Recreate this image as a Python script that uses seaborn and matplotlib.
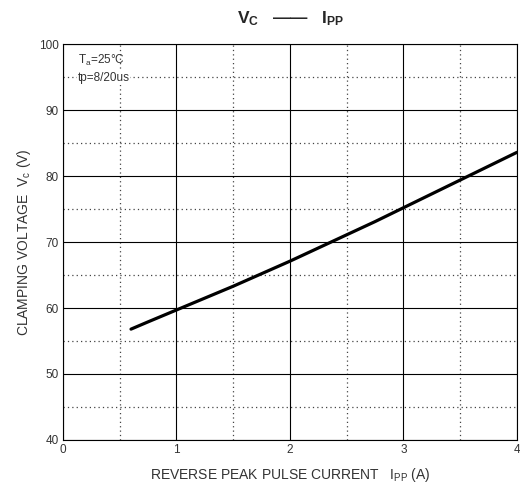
import matplotlib
matplotlib.use('Agg')
import matplotlib.pyplot as plt
import seaborn as sns
import pandas as pd
from matplotlib.ticker import MultipleLocator

# values
ipp = [0.6, 0.75, 1.0, 1.25, 1.5, 1.75, 2.0, 2.25, 2.5, 2.75, 3.0, 3.25, 3.5, 3.75, 4.0]
vc = [56.8, 57.9, 59.7, 61.5, 63.3, 65.2, 67.1, 69.1, 71.1, 73.1, 75.2, 77.3, 79.4, 81.5, 83.6]

df = pd.DataFrame({'Ipp': ipp, 'Vc': vc})

sns.set_style('white')
plt.rcParams['font.family'] = ['Liberation Sans', 'DejaVu Sans']
plt.rcParams['mathtext.fontset'] = 'custom'
plt.rcParams['mathtext.rm'] = 'Liberation Sans'
plt.rcParams['mathtext.it'] = 'Liberation Sans'
plt.rcParams['mathtext.bf'] = 'Liberation Sans:bold'

fig = plt.figure(figsize=(5.2, 4.91), dpi=100)
ax = fig.add_axes([0.121, 0.104, 0.873, 0.806])

sns.lineplot(data=df, x='Ipp', y='Vc', color='black', linewidth=2.3, ax=ax)

ax.set_xlim(0, 4)
ax.set_ylim(40, 100)
ax.xaxis.set_major_locator(MultipleLocator(1))
ax.xaxis.set_minor_locator(MultipleLocator(0.5))
ax.yaxis.set_major_locator(MultipleLocator(10))
ax.yaxis.set_minor_locator(MultipleLocator(5))
ax.grid(which='major', color='black', linewidth=0.8, linestyle='-')
ax.grid(which='minor', color='#444444', linewidth=0.9, linestyle=(0, (1, 2.5)))
ax.tick_params(which='both', length=0, labelsize=8.5, colors='#333333', pad=3)
for s in ax.spines.values():
    s.set_color('black')
    s.set_linewidth(0.8)

ax.set_xlabel('REVERSE PEAK PULSE CURRENT   I$_{\\mathrm{PP}}$ (A)', fontsize=10, color='#333333', labelpad=7)
ax.set_ylabel('CLAMPING VOLTAGE  V$_{\\mathrm{c}}$ (V)', fontsize=10, color='#333333', labelpad=4)

ax.text(0.13, 97.5, 'T$_{\\mathrm{a}}$=25\u00b0C', fontsize=8.5, color='#333333', va='center')
ax.text(0.13, 94.9, 'tp=8/20us', fontsize=8.5, color='#333333', va='center',
        bbox=dict(facecolor='white', edgecolor='none', pad=0.5))

fig.text(0.56, 0.963, '$\\mathbf{V_C}$   \u2014\u2014   $\\mathbf{I_{PP}}$', ha='center', va='center',
         fontsize=12.5, fontweight='bold')

fig.savefig('out.png', dpi=100, facecolor='white')
